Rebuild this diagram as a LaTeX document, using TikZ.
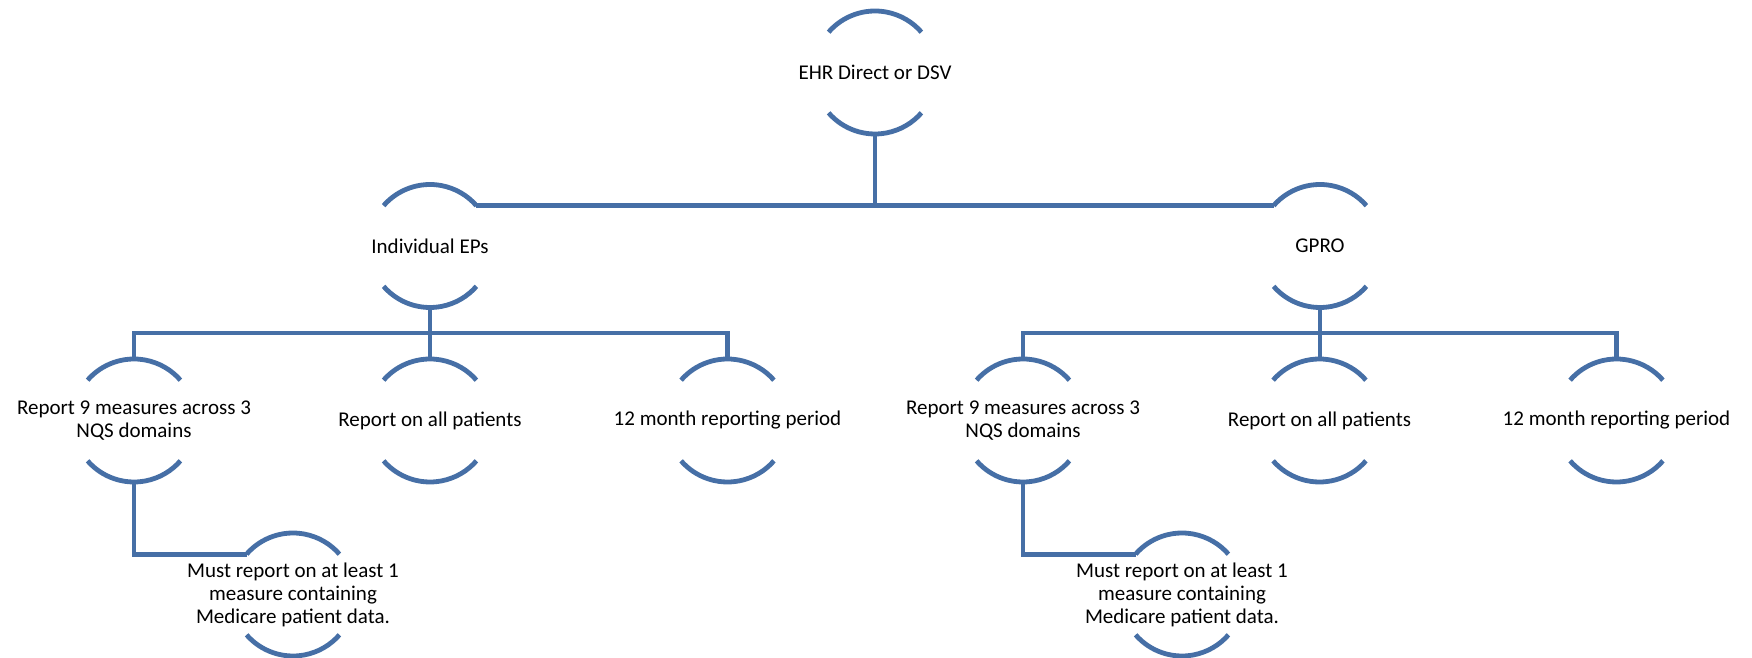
\documentclass[tikz,border=0pt]{standalone}
\usepackage{fontspec}
\setmainfont{Carlito}
\definecolor{arcblue}{RGB}{70,111,166}
\tikzset{
  lbl/.style={align=center, inner sep=0pt, text=black,
              font=\fontsize{21}{23}\selectfont},
  arcline/.style={draw=arcblue, line width=4.8pt},
  conn/.style={draw=arcblue, line width=4.8pt},
}
% A text node framed by a top and a bottom circular arc.
% Defines coordinates <name>-t, -b (apexes) and -tl, -tr (ends of the top arc).
\newcommand\halfcirclenode[4]{%
  \node[lbl] (#1) at (#2,#3) {#4};
  \coordinate (#1-t) at ([yshift=61.5pt]#1.center);
  \coordinate (#1-b) at ([yshift=-61.5pt]#1.center);
  \coordinate (#1-tl) at ([shift={(139:61.5pt)}]#1.center);
  \coordinate (#1-tr) at ([shift={(41:61.5pt)}]#1.center);
  \draw[arcline] (#1-tl) arc[start angle=139, end angle=41, radius=61.5pt];
  \draw[arcline] ([shift={(221:61.5pt)}]#1.center)
    arc[start angle=221, end angle=319, radius=61.5pt];
}
\begin{document}
\begin{tikzpicture}[x=1pt, y=1pt]
\useasboundingbox (0,0) rectangle (1752,658);

% root
\halfcirclenode{ehr}{875}{585.5}{EHR Direct or DSV}

% second level
\halfcirclenode{ind}{430}{412}{Individual EPs}
\halfcirclenode{gpro}{1320}{412}{GPRO}

% third level, left branch
\halfcirclenode{lmeas}{134}{237.5}{Report 9 measures across 3\\NQS domains}
\halfcirclenode{lall}{430}{237.5}{Report on all patients}
\halfcirclenode{lper}{727.5}{237.5}{12 month reporting period}

% third level, right branch
\halfcirclenode{rmeas}{1023}{237.5}{Report 9 measures across 3\\NQS domains}
\halfcirclenode{rall}{1319.5}{237.5}{Report on all patients}
\halfcirclenode{rper}{1616.5}{237.5}{12 month reporting period}

% fourth level
\halfcirclenode{lmed}{293}{63.5}{Must report on at least 1\\measure containing\\Medicare patient data.}
\halfcirclenode{rmed}{1182}{63.5}{Must report on at least 1\\measure containing\\Medicare patient data.}

% connectors
\draw[conn] (ehr-b) -- (ehr-b |- ind-tr);
\draw[conn] (ind-tr) -- (gpro-tl);

\draw[conn] (lmeas-t) -- ++(0,26) -| (lper-t);
\draw[conn] (ind-b) -- (lall-t);
\draw[conn] (rmeas-t) -- ++(0,26) -| (rper-t);
\draw[conn] (gpro-b) -- (gpro-b |- rall-t);

\draw[conn] (lmeas-b) |- (lmed-tl);
\draw[conn] (rmeas-b) |- (rmed-tl);
\end{tikzpicture}
\end{document}
